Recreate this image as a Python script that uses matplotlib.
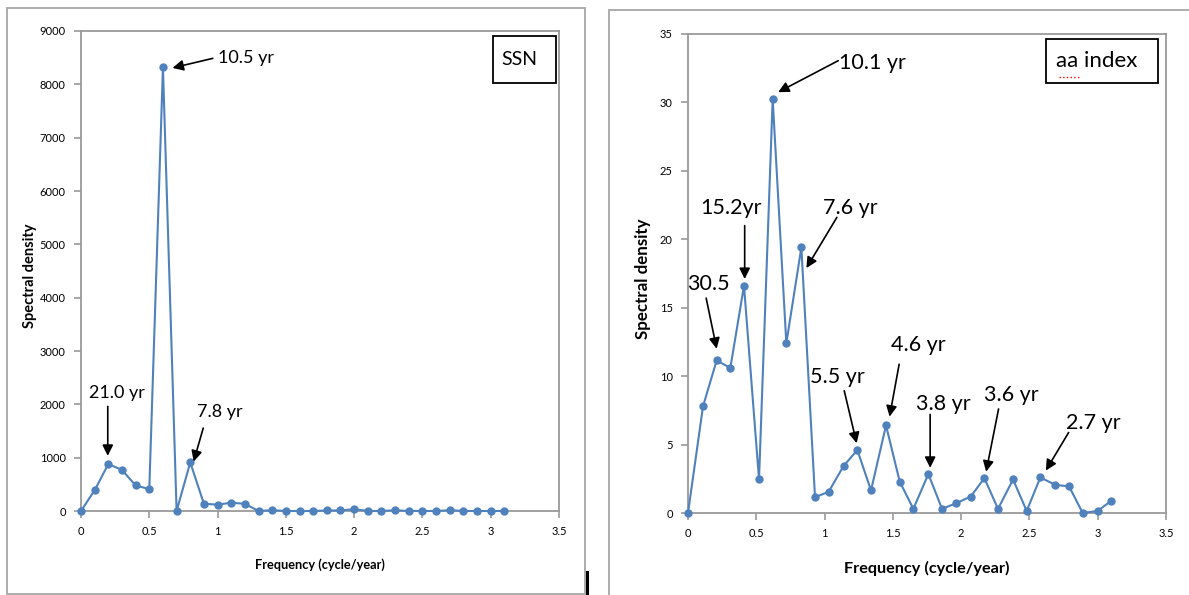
import matplotlib
matplotlib.use('Agg')
import matplotlib.pyplot as plt
from matplotlib.patches import Rectangle
from matplotlib.lines import Line2D

# Data
ssn_freq = [0.0, 0.1, 0.2, 0.3, 0.4, 0.5, 0.6, 0.7, 0.8, 0.9, 1.0, 1.1, 1.2, 1.3, 1.4, 1.5,
            1.6, 1.7, 1.8, 1.9, 2.0, 2.1, 2.2, 2.3, 2.4, 2.5, 2.6, 2.7, 2.8, 2.9, 3.0, 3.1]
ssn_density = [0, 390, 880, 770, 480, 410, 8320, 0, 910, 135, 120, 155, 135, 0, 15, 0,
               0, 0, 10, 10, 35, 0, 0, 15, 0, 0, 0, 15, 0, 0, 0, 0]

aa_freq = [0.0, 0.11, 0.21, 0.31, 0.41, 0.52, 0.62, 0.72, 0.83, 0.93, 1.03, 1.14, 1.24, 1.34,
           1.45, 1.55, 1.65, 1.76, 1.86, 1.96, 2.07, 2.17, 2.27, 2.38, 2.48, 2.58, 2.69, 2.79,
           2.89, 3.0, 3.1]
aa_density = [0.0, 7.8, 11.15, 10.6, 16.6, 2.45, 30.25, 12.4, 19.4, 1.15, 1.55, 3.45, 4.6, 1.65,
              6.4, 2.3, 0.3, 2.85, 0.3, 0.7, 1.2, 2.55, 0.3, 2.45, 0.15, 2.6, 2.05, 1.95,
              0.0, 0.15, 0.9]

# annotations: (label, text x, text y, arrow tail x, tail y, head x, head y)
ssn_notes = [
    ('10.5 yr', 1.205, 8500, 0.965, 8487, 0.67, 8308),
    ('21.0 yr', 0.265, 2210, 0.196, 1961, 0.196, 1034),
    ('7.8 yr', 1.02, 1854, 0.895, 1555, 0.825, 927),
]
aa_notes = [
    ('10.1 yr', 1.35, 32.9, 1.10, 33.05, 0.66, 30.75),
    ('15.2yr', 0.313, 22.3, 0.415, 21.0, 0.415, 17.1),
    ('7.6 yr', 1.19, 22.3, 1.09, 21.6, 0.867, 17.9),
    ('30.5', 0.15, 16.7, 0.133, 15.7, 0.21, 12.0),
    ('5.5 yr', 1.094, 9.95, 1.144, 8.93, 1.235, 5.1),
    ('4.6 yr', 1.684, 12.25, 1.546, 10.87, 1.476, 7.04),
    ('3.8 yr', 1.87, 8.0, 1.773, 7.2, 1.773, 3.3),
    ('3.6 yr', 2.371, 8.65, 2.274, 7.6, 2.183, 3.02),
    ('2.7 yr', 2.97, 6.6, 2.787, 5.88, 2.62, 3.1),
]

font = ['Lato', 'DejaVu Sans']
line_blue = '#4F81BD'
grey = '#9a9a9a'

W, H = 1189, 595
fig = plt.figure(figsize=(W / 100, H / 100), dpi=100)
fig.patch.set_facecolor('white')


def px_axes(left, top, right, bottom):
    return fig.add_axes([left / W, 1 - bottom / H, (right - left) / W, (bottom - top) / H])


def style_axes(ax, ymax, ystep, xlab_size, ylab_size, xlab_y, ylab_x):
    ax.set_xlim(0, 3.5)
    ax.set_ylim(0, ymax)
    ax.set_xticks([0, 0.5, 1, 1.5, 2, 2.5, 3, 3.5])
    ax.set_xticklabels(['0', '0.5', '1', '1.5', '2', '2.5', '3', '3.5'])
    ax.set_yticks(range(0, ymax + 1, ystep))
    for s in ax.spines.values():
        s.set_color(grey)
        s.set_linewidth(1.3)
    ax.tick_params(direction='out', length=5, width=1.2, color=grey,
                   labelsize=8, pad=6)
    for lab in ax.get_xticklabels() + ax.get_yticklabels():
        lab.set_family(font)
    ax.set_xlabel('Frequency (cycle/year)', family=font, fontweight='bold',
                  fontsize=xlab_size)
    ax.xaxis.set_label_coords(0.5, xlab_y)
    ax.set_ylabel('Spectral density', family=font, fontweight='bold',
                  fontsize=ylab_size)
    ax.yaxis.set_label_coords(ylab_x, 0.49)


def add_notes(ax, notes, size):
    for lab, tx, ty, ax0, ay0, hx, hy in notes:
        ax.text(tx, ty, lab, family=font, fontsize=size, ha='center', va='center')
        ax.annotate('', xy=(hx, hy), xytext=(ax0, ay0),
                    arrowprops=dict(arrowstyle='-|>', color='black', lw=1.2,
                                    mutation_scale=16, shrinkA=0, shrinkB=0))


# Left panel: sunspot number
ax1 = px_axes(81, 31, 559, 511)
ax1.plot(ssn_freq, ssn_density, color=line_blue, lw=1.5, marker='o', ms=5,
         clip_on=False, zorder=3)
style_axes(ax1, 9000, 1000, 9.2, 10.5, -0.098, -0.092)
add_notes(ax1, ssn_notes, 13)
ax1.add_patch(Rectangle((3.02, 8022), 0.455, 892, fill=False, ec='black', lw=1.3))
ax1.text(3.21, 8470, 'SSN', family=font, fontsize=14, ha='center', va='center')

# Right panel: aa index
ax2 = px_axes(688, 34, 1166, 513)
ax2.plot(aa_freq, aa_density, color=line_blue, lw=1.5, marker='o', ms=5,
         clip_on=False, zorder=3)
style_axes(ax2, 35, 5, 11.7, 12.2, -0.1, -0.077)
add_notes(ax2, aa_notes, 15.5)
ax2.add_patch(Rectangle((2.618, 31.45), 0.82, 3.15, fill=False, ec='black', lw=1.3))
ax2.text(2.99, 33.05, 'aa index', family=font, fontsize=16, ha='center', va='center')

# outer chart-area frames
fig.add_artist(Rectangle((7 / W, 1 - 594 / H), (585 - 7) / W, (594 - 8) / H,
                         transform=fig.transFigure, fill=False, ec='#a6a6a6', lw=1.3))
fig.add_artist(Rectangle((609 / W, -0.1), 0.6, 1.1 - 10 / H,
                         transform=fig.transFigure, fill=False, ec='#a6a6a6', lw=1.3))
fig.add_artist(Line2D([587 / W, 587 / W], [1 - 572 / H, 1 - 594 / H],
                      transform=fig.transFigure, color='black', lw=2.2))
fig.add_artist(Line2D([1059 / W, 1081 / W], [1 - 77 / H, 1 - 77 / H],
                      transform=fig.transFigure, color='red', lw=1, ls=':'))

plt.savefig('out.png', dpi=100)
